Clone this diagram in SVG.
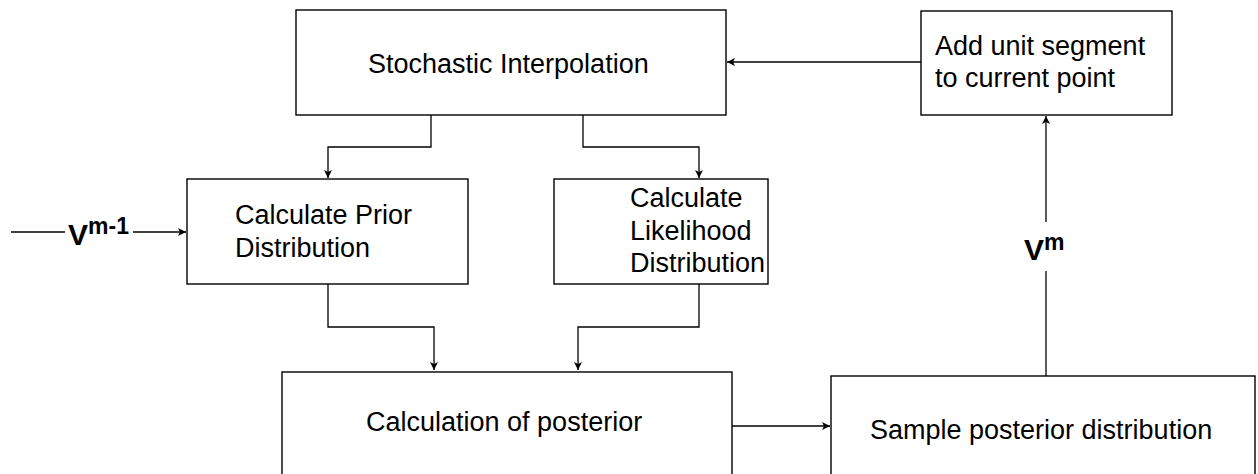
<svg xmlns="http://www.w3.org/2000/svg" width="1258" height="474" viewBox="0 0 1258 474">
<style>
.box{fill:#fff;stroke:#000;stroke-width:1.4}
.t{font-family:"Liberation Sans",Arial,sans-serif;font-size:27px;fill:#000}
.c{fill:none;stroke:#000;stroke-width:1.3}
.v{font-family:"Liberation Sans",Arial,sans-serif;font-weight:bold;fill:#000}
</style>
<defs>
<marker id="ah" markerWidth="9" markerHeight="8" refX="8" refY="4" orient="auto" markerUnits="userSpaceOnUse">
<path d="M0,0 L8,4 L0,8 L2,4 z" fill="#000"/>
</marker>
</defs>
<rect width="1258" height="474" fill="#fff"/>
<g id="connectors">
<path class="c" d="M921,62 H727" marker-end="url(#ah)"/>
<path class="c" d="M431,115 V147 H328 V178" marker-end="url(#ah)"/>
<path class="c" d="M583,115 V147 H699 V178" marker-end="url(#ah)"/>
<path class="c" d="M11,232 H65" />
<path class="c" d="M133,232 H186" marker-end="url(#ah)"/>
<path class="c" d="M328,284 V327 H434 V370" marker-end="url(#ah)"/>
<path class="c" d="M699,284 V327 H578 V370" marker-end="url(#ah)"/>
<path class="c" d="M732,426 H830" marker-end="url(#ah)"/>
<path class="c" d="M1046,376 V271"/>
<path class="c" d="M1046,222 V116" marker-end="url(#ah)"/>
<text class="v" x="68" y="245" font-size="30">V<tspan font-size="23" dy="-11">m-1</tspan></text>
<text class="v" x="1024" y="260" font-size="30">V<tspan font-size="23" dy="-10">m</tspan></text>
</g>
<g id="stochastic">
<rect class="box" x="296" y="10" width="430" height="105"/>
<text class="t" x="368" y="73">Stochastic Interpolation</text>
</g>
<g id="addunit">
<rect class="box" x="921" y="11" width="251" height="104"/>
<text class="t" x="935" y="55">Add unit segment</text>
<text class="t" x="935" y="87">to current point</text>
</g>
<g id="prior">
<rect class="box" x="187" y="179" width="281" height="105"/>
<text class="t" x="235" y="224">Calculate Prior</text>
<text class="t" x="235" y="257">Distribution</text>
</g>
<g id="likelihood">
<rect class="box" x="554" y="179" width="214" height="105"/>
<text class="t" x="630" y="207">Calculate</text>
<text class="t" x="630" y="240">Likelihood</text>
<text class="t" x="630" y="272">Distribution</text>
</g>
<g id="posterior">
<rect class="box" x="282" y="372" width="450" height="110"/>
<text class="t" x="366" y="431">Calculation of posterior</text>
</g>
<g id="sample">
<rect class="box" x="831" y="376" width="424" height="110"/>
<text class="t" x="870" y="439">Sample posterior distribution</text>
</g>
</svg>
